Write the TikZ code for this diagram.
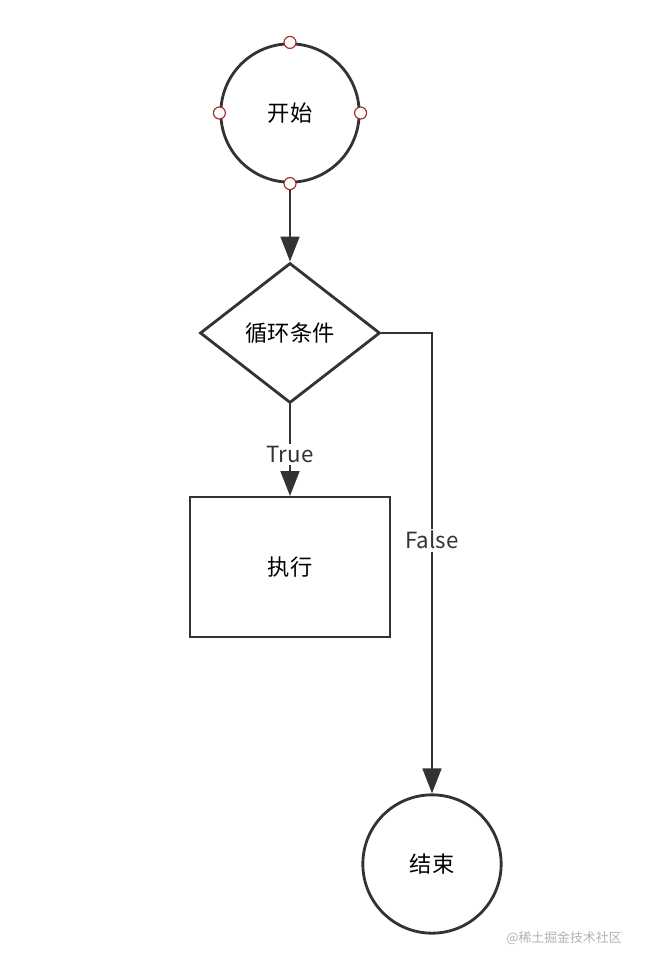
\documentclass[tikz,border=0pt]{standalone}
\usepackage{fontspec}
\setmainfont{Noto Sans CJK SC}
\usetikzlibrary{shapes.geometric,arrows.meta}
\definecolor{ln}{HTML}{333333}
\definecolor{pt}{HTML}{A0302F}
\begin{document}
\begin{tikzpicture}[x=0.03cm,y=-0.03cm]
\tikzset{
  term/.style={circle, draw=ln, line width=2.4pt, minimum size=4.15cm, inner sep=0pt, font=\fontsize{19}{22}\selectfont},
  cond/.style={diamond, draw=ln, line width=2.4pt, minimum width=5.4cm, minimum height=4.2cm, aspect=1.28, inner sep=0pt, font=\fontsize{19}{22}\selectfont},
  proc/.style={rectangle, draw=ln, line width=1.6pt, minimum width=6cm, minimum height=4.2cm, font=\fontsize{19}{22}\selectfont},
  lab/.style={fill=white, inner sep=2pt, text=ln, font=\fontsize{19}{22}\selectfont},
  flow/.style={draw=ln, line width=2.4pt, -{Triangle[length=7.5mm,width=5.6mm]}},
  dot/.style={circle, draw=pt, fill=white, line width=1pt, minimum size=3.6mm, inner sep=0pt}
}
\useasboundingbox (0,0) rectangle (646,966);
\node[term] (start) at (290,113) {开始};
\node[cond] (loop) at (290,333) {循环条件};
\node[proc] (body) at (290,567) {执行};
\node[term] (stop) at (432,864) {结束};
\coordinate (turn) at (432,333);
\draw[flow] (start) -- (loop);
\draw[flow] (loop) -- node[lab, pos=0.55] {True} (body);
\draw[flow] (loop.east) -- (turn) -- node[lab, pos=0.45] {False} (stop);
\foreach \a in {north,south,east,west}
  \node[dot] at (start.\a) {};
\node[text=gray!60, font=\fontsize{11}{13}\selectfont] (mark) at (564,938) {@稀土掘金技术社区};
\end{tikzpicture}
\end{document}
